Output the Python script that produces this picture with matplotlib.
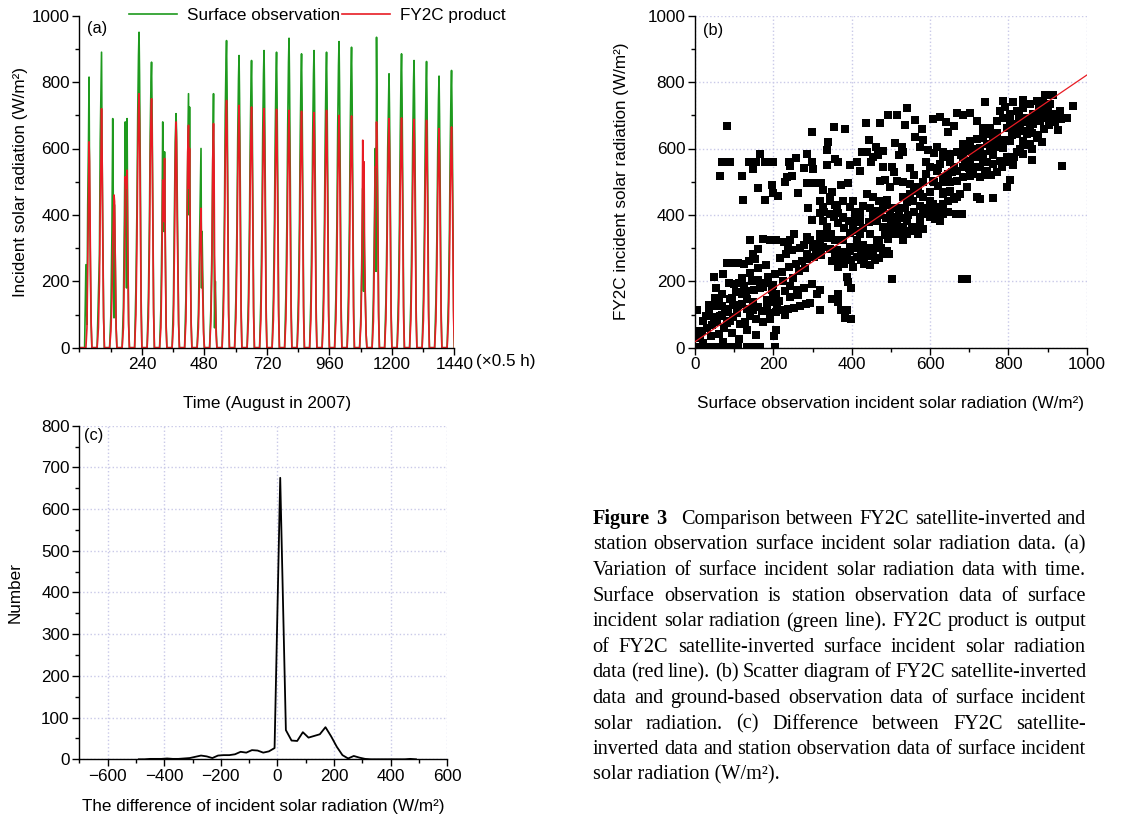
import matplotlib
matplotlib.use("Agg")
import matplotlib.pyplot as plt
from matplotlib.ticker import MultipleLocator

plt.rcParams['font.family'] = ['Liberation Sans', 'DejaVu Sans']
plt.rcParams['axes.linewidth'] = 1.0

# ---- (a) time series: 30 days, values at half-hour slots of each day ----
day_slots = [20, 25, 29, 32, 35, 37, 39, 42, 45, 48]
obs_days = [
    [0, 250, 70, 430, 620, 815, 500, 250, 70, 0],
    [0, 150, 280, 620, 780, 890, 600, 350, 90, 0],
    [0, 100, 350, 690, 300, 90, 430, 250, 60, 0],
    [0, 120, 400, 680, 350, 180, 690, 300, 80, 0],
    [0, 180, 420, 700, 880, 950, 820, 520, 150, 0],
    [0, 150, 380, 650, 800, 860, 720, 420, 120, 0],
    [0, 120, 350, 680, 420, 350, 590, 300, 70, 0],
    [0, 130, 400, 620, 705, 650, 500, 270, 80, 0],
    [0, 150, 400, 600, 765, 400, 725, 300, 80, 0],
    [0, 100, 300, 450, 600, 180, 350, 200, 50, 0],
    [0, 120, 300, 560, 765, 350, 60, 200, 60, 0],
    [0, 160, 400, 700, 860, 925, 780, 460, 120, 0],
    [0, 150, 370, 630, 810, 880, 750, 460, 120, 0],
    [0, 145, 365, 620, 795, 865, 735, 450, 120, 0],
    [0, 150, 375, 645, 825, 895, 760, 465, 125, 0],
    [0, 150, 375, 640, 820, 890, 755, 465, 125, 0],
    [0, 160, 390, 670, 860, 932, 790, 485, 130, 0],
    [0, 150, 370, 635, 815, 885, 750, 460, 125, 0],
    [0, 150, 375, 645, 825, 895, 760, 465, 125, 0],
    [0, 150, 375, 640, 820, 890, 755, 465, 125, 0],
    [0, 155, 385, 665, 850, 922, 785, 480, 130, 0],
    [0, 155, 380, 650, 835, 905, 770, 470, 125, 0],
    [0, 100, 300, 480, 170, 380, 250, 150, 40, 0],
    [0, 150, 380, 600, 230, 935, 700, 420, 110, 0],
    [0, 140, 350, 600, 745, 825, 700, 430, 110, 0],
    [0, 150, 370, 635, 815, 885, 750, 460, 125, 0],
    [0, 145, 365, 620, 795, 865, 735, 450, 120, 0],
    [0, 145, 360, 620, 790, 862, 730, 450, 120, 0],
    [0, 140, 345, 590, 750, 818, 695, 425, 115, 0],
    [0, 140, 350, 600, 770, 835, 710, 435, 115, 0],
]
fy_days = [
    [0, 0, 60, 250, 450, 620, 560, 300, 80, 0],
    [0, 60, 200, 420, 580, 720, 600, 300, 90, 0],
    [0, 50, 150, 300, 400, 460, 440, 250, 60, 0],
    [0, 60, 250, 515, 480, 500, 535, 280, 70, 0],
    [0, 100, 320, 560, 720, 765, 680, 420, 110, 0],
    [0, 90, 300, 560, 700, 750, 650, 380, 100, 0],
    [0, 60, 250, 505, 470, 380, 570, 280, 60, 0],
    [0, 70, 300, 550, 680, 620, 420, 250, 70, 0],
    [0, 80, 300, 590, 670, 480, 600, 260, 70, 0],
    [0, 60, 200, 340, 420, 300, 250, 150, 40, 0],
    [0, 80, 250, 565, 675, 560, 280, 150, 40, 0],
    [0, 100, 300, 560, 700, 745, 650, 380, 100, 0],
    [0, 90, 280, 510, 665, 730, 630, 380, 95, 0],
    [0, 85, 275, 505, 660, 725, 625, 375, 95, 0],
    [0, 85, 275, 505, 655, 720, 620, 375, 95, 0],
    [0, 85, 270, 500, 655, 718, 618, 372, 95, 0],
    [0, 85, 270, 500, 650, 715, 615, 370, 95, 0],
    [0, 85, 270, 500, 650, 712, 612, 370, 92, 0],
    [0, 85, 268, 495, 645, 708, 610, 368, 92, 0],
    [0, 85, 270, 500, 650, 715, 615, 370, 95, 0],
    [0, 85, 265, 490, 635, 700, 600, 365, 90, 0],
    [0, 85, 265, 488, 635, 698, 600, 362, 90, 0],
    [0, 70, 250, 625, 480, 560, 300, 150, 40, 0],
    [0, 80, 300, 545, 545, 680, 590, 350, 90, 0],
    [0, 85, 265, 485, 630, 690, 595, 360, 90, 0],
    [0, 85, 265, 485, 630, 692, 595, 360, 90, 0],
    [0, 85, 262, 482, 625, 688, 592, 358, 90, 0],
    [0, 82, 260, 480, 623, 685, 590, 356, 89, 0],
    [0, 80, 250, 462, 600, 660, 568, 343, 86, 0],
    [0, 80, 252, 465, 605, 665, 572, 346, 86, 0],
]

# ---- (b) scatter: (surface observation, FY2C product) ----
pts_upper = [
    (81, 669), (68, 560), (89, 560), (64, 517), (119, 517), (123, 445), (138, 560), (155, 560),
    (149, 537), (166, 583), (179, 560), (200, 560), (162, 482), (179, 445), (196, 490), (200, 467),
    (213, 457), (230, 500), (234, 515), (241, 558), (257, 570), (264, 465), (243, 546), (247, 518),
    (298, 650), (298, 560), (285, 583), (277, 540), (287, 495), (306, 495), (321, 495), (302, 538),
    (289, 420), (298, 385), (319, 443), (340, 620), (336, 595), (357, 567), (338, 550), (328, 475),
    (319, 405), (336, 355), (356, 665), (383, 658), (366, 560), (374, 490), (357, 430), (366, 405),
    (379, 390), (391, 495), (396, 550), (413, 560), (426, 590), (420, 532), (436, 676), (408, 405),
    (413, 385), (443, 625), (455, 575), (462, 605), (472, 676), (481, 593), (494, 700), (511, 618),
    (502, 545), (508, 528), (515, 700), (540, 722), (536, 670), (528, 605), (530, 588), (562, 685),
    (562, 635), (583, 625), (608, 690), (617, 605), (634, 590), (647, 650), (660, 668), (668, 706),
    (685, 700), (702, 706), (740, 741), (719, 683), (736, 663), (349, 470), (345, 455), (330, 408),
    (440, 590), (450, 560), (466, 580), (480, 545), (485, 505), (520, 580), (548, 540), (575, 605),
    (596, 595), (610, 585), (620, 540), (650, 560), (655, 530), (640, 470), (600, 470), (610, 500),
    (560, 520), (590, 560), (560, 480), (640, 680), (625, 695), (580, 660),
]
pts_low = [
    (9, 3), (26, 3), (43, 3), (60, 3), (77, 3), (94, 3), (111, 3), (132, 3), (149, 3), (166, 3),
    (204, 3), (21, 15), (72, 18), (4, 115), (4, 50), (17, 50), (31, 58), (43, 68), (55, 78),
    (49, 93), (64, 95), (54, 125), (68, 125), (77, 108), (85, 118), (98, 128), (81, 75), (98, 93),
    (54, 181), (68, 163), (49, 213), (72, 223), (81, 255), (98, 255), (111, 255), (125, 251),
    (139, 261), (153, 268), (88, 195), (100, 191), (113, 195), (125, 185), (104, 168), (119, 161),
    (134, 148), (147, 138), (119, 133), (132, 118), (149, 113), (162, 123), (140, 95), (157, 85),
    (128, 78), (174, 78), (191, 85), (94, 43), (113, 25), (157, 38), (202, 35), (208, 53), (132, 53),
    (183, 143), (198, 138), (210, 123), (191, 105), (208, 108), (224, 113), (238, 118), (253, 121),
    (268, 125), (283, 131), (294, 135), (230, 98), (187, 213), (204, 221), (221, 228), (162, 203),
    (174, 183), (196, 173), (208, 163), (243, 185), (260, 173), (277, 181), (298, 193), (311, 163),
    (319, 173), (319, 113), (264, 158), (243, 153), (241, 243), (258, 253), (273, 261), (287, 267),
    (304, 273), (321, 278), (217, 271), (232, 283), (162, 298), (149, 283), (140, 323), (174, 328),
    (191, 323), (208, 325), (226, 318), (243, 323), (253, 343), (238, 301), (247, 295), (268, 301),
    (285, 333), (311, 311), (328, 303), (345, 298), (362, 293), (379, 288), (389, 273), (397, 263),
    (357, 273), (372, 268), (364, 243), (381, 253), (404, 243), (413, 273), (423, 263), (431, 251),
    (447, 248), (460, 263), (471, 271), (481, 281), (496, 283), (474, 301), (489, 291), (438, 301),
    (455, 288), (387, 213), (391, 198), (397, 181), (349, 148), (366, 138), (372, 113), (389, 113),
    (383, 88), (397, 85), (366, 163), (36, 110), (28, 95), (62, 140), (90, 148), (108, 105),
    (120, 210), (140, 225), (160, 240), (180, 250), (200, 190), (225, 200), (40, 35), (12, 30),
    (170, 110), (185, 125), (150, 175), (90, 80), (115, 70), (60, 40), (75, 60),
    (20, 80), (35, 130), (50, 150), (70, 100), (95, 150), (110, 130), (130, 170), (145, 200),
    (165, 180), (180, 195), (200, 150), (215, 140), (230, 170), (250, 210), (265, 230), (280, 240),
]
pts_mid = [
    (328, 383), (338, 363), (347, 343), (357, 323), (379, 393), (394, 381), (404, 363), (415, 351),
    (430, 428), (447, 421), (462, 411), (472, 401), (488, 391), (500, 381), (438, 463), (455, 453),
    (471, 443), (489, 431), (464, 381), (481, 363), (498, 351), (515, 371), (532, 391), (542, 381),
    (553, 363), (566, 353), (523, 421), (540, 438), (557, 443), (574, 428), (587, 418), (532, 453),
    (549, 463), (562, 473), (570, 483), (515, 503), (532, 498), (549, 493), (498, 483), (472, 503),
    (583, 453), (600, 443), (608, 433), (617, 423), (625, 418), (583, 403), (600, 393), (613, 388),
    (625, 381), (574, 373), (583, 358), (634, 433), (647, 443), (660, 448), (668, 453), (677, 463),
    (634, 463), (651, 473), (651, 498), (668, 503), (685, 513), (702, 518), (668, 533), (685, 543),
    (617, 533), (625, 553), (591, 523), (600, 543), (634, 573), (651, 583), (668, 588), (413, 323),
    (430, 308), (379, 323), (396, 303), (421, 343), (447, 343), (464, 323), (494, 328), (508, 343),
    (523, 343), (540, 343), (532, 323), (498, 403), (515, 393), (396, 423), (379, 443), (404, 443),
    (421, 403), (345, 443), (362, 423), (328, 423), (345, 403), (319, 343), (294, 323), (302, 303),
    (285, 283), (277, 308), (549, 353), (570, 343), (647, 408), (666, 403), (681, 403), (634, 403),
    (350, 260), (365, 250), (380, 275), (395, 290), (410, 300), (425, 285), (440, 275), (455, 300),
    (470, 320), (485, 340), (500, 360), (515, 350), (530, 365), (545, 400), (560, 410), (575, 395),
    (590, 420), (605, 410), (620, 400), (520, 410), (535, 420), (505, 420), (490, 445), (480, 420),
    (455, 400), (445, 380), (430, 360), (420, 380), (410, 410), (395, 345), (380, 360), (365, 375),
    (355, 395), (340, 330), (320, 320), (310, 290),
]
pts_high = [
    (677, 588), (694, 593), (711, 598), (685, 573), (702, 563), (719, 573), (736, 583), (753, 593),
    (702, 623), (719, 628), (736, 633), (753, 643), (770, 648), (728, 603), (745, 613), (762, 598),
    (779, 623), (728, 543), (745, 533), (762, 553), (779, 563), (796, 573), (787, 603), (804, 623),
    (821, 643), (838, 653), (855, 663), (796, 663), (813, 673), (830, 683), (847, 693), (864, 703),
    (804, 703), (821, 713), (838, 723), (855, 733), (872, 743), (881, 713), (898, 723), (915, 703),
    (932, 713), (949, 693), (881, 683), (898, 693), (915, 683), (889, 743), (906, 733), (770, 683),
    (787, 693), (804, 683), (753, 663), (736, 653), (838, 623), (855, 613), (872, 633), (821, 588),
    (838, 583), (711, 523), (728, 513), (694, 483), (719, 453), (787, 743), (779, 713), (847, 643),
    (860, 648), (826, 698), (877, 718), (889, 698), (923, 698), (864, 673), (817, 658), (762, 623),
    (711, 573), (736, 563), (685, 613), (660, 543), (634, 513), (647, 523), (608, 503), (621, 488),
    (583, 498), (574, 463), (634, 498), (791, 726), (813, 741), (838, 746), (893, 761), (915, 761),
    (964, 728), (936, 546), (928, 655), (885, 620), (860, 565), (813, 550), (796, 485), (804, 505),
    (762, 450), (728, 447), (681, 206), (694, 206), (502, 206),
    (700, 540), (690, 560), (715, 545), (740, 520), (755, 520), (770, 530), (785, 545), (800, 560),
    (815, 575), (830, 600), (845, 610), (860, 600), (875, 640), (890, 660), (905, 670), (920, 680),
    (935, 690), (900, 710), (870, 690), (850, 680), (830, 660), (810, 640), (790, 625), (775, 605),
    (760, 580), (745, 560), (720, 590), (700, 600), (680, 580),
]
fit_intercept = 18
fit_slope = 0.803

# ---- (c) histogram of differences ----
diff_bins = [-490, -470, -450, -430, -410, -390, -370, -350, -330, -310, -290, -270, -250,
             -230, -210, -190, -170, -150, -130, -110, -90, -70, -50, -30, -10, 10, 30, 50,
             70, 90, 110, 130, 150, 170, 190, 210, 230, 250, 270, 290, 310, 330, 350, 370,
             390, 410, 430, 450, 470, 490]
diff_counts = [0, 0, 1, 1, 1, 2, 1, 1, 2, 3, 6, 9, 7, 3, 9, 10, 10, 12, 18, 16, 22, 21, 16,
               19, 27, 675, 70, 45, 44, 65, 52, 56, 60, 77, 55, 30, 10, 2, 8, 4, 1, 0, 0, 0,
               0, 0, 0, 0, 1, 0]

caption_lines = [
    "Figure 3 Comparison between FY2C satellite-inverted and",
    "station observation surface incident solar radiation data. (a)",
    "Variation of surface incident solar radiation data with time.",
    "Surface observation is station observation data of surface",
    "incident solar radiation (green line). FY2C product is output",
    "of FY2C satellite-inverted surface incident solar radiation",
    "data (red line). (b) Scatter diagram of FY2C satellite-inverted",
    "data and ground-based observation data of surface incident",
    "solar radiation. (c) Difference between FY2C satellite-",
    "inverted data and station observation data of surface incident",
    "solar radiation (W/m²).",
]

GREEN = '#1e9a1e'
RED = '#e81c24'
GRID = '#c9c9e8'
FS = 12.3

W, H = 1135, 819
fig = plt.figure(figsize=(W / 100, H / 100), dpi=100)


def style_axis(ax):
    for s in ('top', 'right'):
        ax.spines[s].set_visible(False)
    ax.tick_params(which='major', direction='out', length=5, width=1.0, labelsize=FS, pad=2)
    ax.tick_params(which='minor', direction='out', length=3, width=1.0)


# ---- panel (a) ----
ax_a = fig.add_axes([79.4 / W, 1 - 347.7 / H, 375 / W, 332 / H])
t_obs, v_obs, t_fy, v_fy = [0], [0], [0], [0]
for k in range(len(obs_days)):
    for s, vo, vf in zip(day_slots, obs_days[k], fy_days[k]):
        t_obs.append(48 * k + s)
        v_obs.append(vo)
        t_fy.append(48 * k + s)
        v_fy.append(vf)
ax_a.plot(t_obs, v_obs, color=GREEN, lw=1.2, label='Surface observation')
ax_a.plot(t_fy, v_fy, color=RED, lw=1.2, label='FY2C product')
ax_a.set_xlim(0, 1440)
ax_a.set_ylim(0, 1000)
ax_a.set_xticks([240, 480, 720, 960, 1200, 1440])
ax_a.xaxis.set_minor_locator(MultipleLocator(120))
ax_a.yaxis.set_major_locator(MultipleLocator(200))
ax_a.yaxis.set_minor_locator(MultipleLocator(100))
style_axis(ax_a)
ax_a.set_xlabel('Time (August in 2007)', fontsize=FS, labelpad=17)
ax_a.set_ylabel('Incident solar radiation (W/m²)', fontsize=FS, labelpad=3)
ax_a.text(1.058, -0.042, '(×0.5 h)', transform=ax_a.transAxes, ha='left', va='center',
          fontsize=FS, clip_on=False)
ax_a.text(0.02, 0.985, '(a)', transform=ax_a.transAxes, ha='left', va='top', fontsize=FS - 0.5)
ax_a.legend(loc='center', bbox_to_anchor=(0.635, 1.0), ncol=2, frameon=False, fontsize=FS,
            handlelength=2.8, handletextpad=0.6, columnspacing=0.1, borderpad=0)

# ---- panel (b) ----
ax_b = fig.add_axes([695 / W, 1 - 347.7 / H, 391.7 / W, 332 / H])
for grp in (pts_low, pts_mid, pts_high, pts_upper):
    ax_b.plot([p[0] for p in grp], [p[1] for p in grp], linestyle='none', marker='s',
              markersize=5.4, color='black', markeredgewidth=0, zorder=3)
ax_b.plot([0, 1000], [fit_intercept, fit_intercept + fit_slope * 1000], color=RED, lw=0.9,
          zorder=4)
ax_b.set_xlim(0, 1000)
ax_b.set_ylim(0, 1000)
for axis in (ax_b.xaxis, ax_b.yaxis):
    axis.set_major_locator(MultipleLocator(200))
    axis.set_minor_locator(MultipleLocator(100))
ax_b.grid(True, which='major', linestyle=':', color=GRID, lw=1.0, zorder=0)
ax_b.set_axisbelow(True)
style_axis(ax_b)
ax_b.set_xlabel('Surface observation incident solar radiation (W/m²)', fontsize=FS, labelpad=17)
ax_b.set_ylabel('FY2C incident solar radiation (W/m²)', fontsize=FS, labelpad=13)
ax_b.text(0.02, 0.978, '(b)', transform=ax_b.transAxes, ha='left', va='top', fontsize=FS - 0.5)

# ---- panel (c) ----
ax_c = fig.add_axes([79.4 / W, 1 - 759.3 / H, 367.7 / W, 333.6 / H])
ax_c.plot(diff_bins, diff_counts, color='black', lw=1.3)
ax_c.set_xlim(-700, 600)
ax_c.set_ylim(0, 800)
ax_c.xaxis.set_major_locator(MultipleLocator(200))
ax_c.xaxis.set_minor_locator(MultipleLocator(100))
ax_c.yaxis.set_major_locator(MultipleLocator(100))
ax_c.yaxis.set_minor_locator(MultipleLocator(50))
ax_c.grid(True, which='major', linestyle=':', color=GRID, lw=1.0, zorder=0)
ax_c.set_axisbelow(True)
style_axis(ax_c)
ax_c.set_xlabel('The difference of incident solar radiation (W/m²)', fontsize=FS, labelpad=11)
ax_c.set_ylabel('Number', fontsize=FS, labelpad=13)
ax_c.text(0.012, 0.993, '(c)', transform=ax_c.transAxes, ha='left', va='top', fontsize=FS - 0.5)

# ---- caption, justified ----
renderer = fig.canvas.get_renderer()
left_px, right_px = 592.7, 1086.0
cap_fs = 14.6
for i, line in enumerate(caption_lines):
    y = 1 - (519.3 + i * 25.6) / H
    words = line.split(' ')
    if i == len(caption_lines) - 1:
        fig.text(left_px / W, y, line, fontsize=cap_fs, family='Liberation Serif',
                 ha='left', va='center')
        continue
    size = cap_fs
    while True:
        texts = []
        for j, w in enumerate(words):
            bold = (i == 0 and j < 2)
            texts.append(fig.text(0, y, w, fontsize=size, family='Liberation Serif',
                                  weight='bold' if bold else 'normal', ha='left', va='center'))
        widths = [t.get_window_extent(renderer).width for t in texts]
        gaps = [1.0] * (len(words) - 1)
        if i == 0:
            gaps[1] = 2.6
        free = (right_px - left_px) - sum(widths)
        unit = free / sum(gaps)
        if unit >= 3.5 or size < 11:
            break
        for t in texts:
            t.remove()
        size -= 0.2
    x = left_px
    for j, t in enumerate(texts):
        t.set_x(x / W)
        x += widths[j]
        if j < len(gaps):
            x += gaps[j] * unit

fig.savefig('out.png', dpi=100)
